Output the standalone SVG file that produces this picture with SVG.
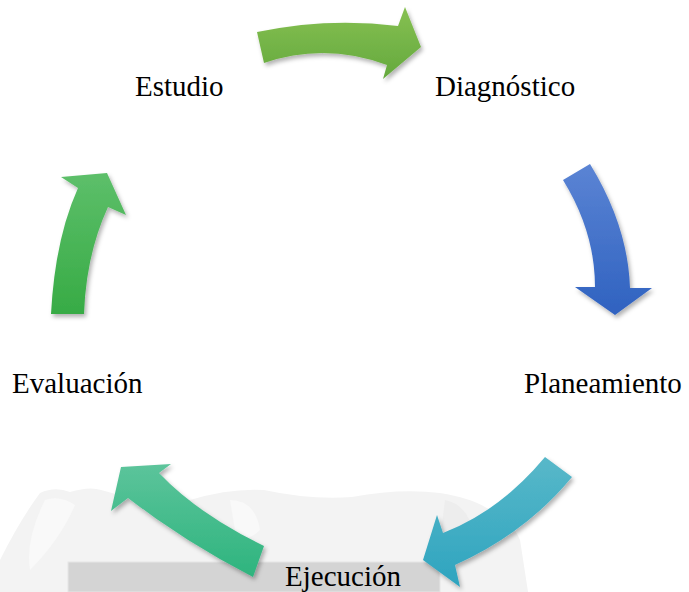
<svg xmlns="http://www.w3.org/2000/svg" width="689" height="592" viewBox="0 0 689 592">
<style>
.arr{filter:url(#sh)}
.lbl{font-family:'Liberation Serif','DejaVu Serif',serif;font-size:29px;fill:#000}
</style>
<defs>
<filter id="sh" x="-20%" y="-20%" width="150%" height="150%">
<feDropShadow dx="2" dy="3" stdDeviation="2" flood-color="#000" flood-opacity="0.3"/>
</filter>
<linearGradient id="gTop" x1="0" y1="0" x2="0" y2="1"><stop offset="0" stop-color="#86c052"/><stop offset="1" stop-color="#64a93d"/></linearGradient>
<linearGradient id="gBlue" x1="0" y1="0" x2="0" y2="1"><stop offset="0" stop-color="#5b84d4"/><stop offset="1" stop-color="#2f62c0"/></linearGradient>
<linearGradient id="gTeal" x1="0" y1="0" x2="0" y2="1"><stop offset="0" stop-color="#58b8c9"/><stop offset="1" stop-color="#2ea4bf"/></linearGradient>
<linearGradient id="gSea" x1="0" y1="0" x2="0" y2="1"><stop offset="0" stop-color="#5cc49b"/><stop offset="1" stop-color="#2eb47e"/></linearGradient>
<linearGradient id="gLeft" x1="0" y1="0" x2="0" y2="1"><stop offset="0" stop-color="#5dbf6a"/><stop offset="1" stop-color="#37ab45"/></linearGradient>
</defs>
<rect width="689" height="592" fill="#fff"/>
<g id="watermark">
<path d="M0,560 Q20,520 40,493 Q55,486 70,492 Q90,486 101,490 Q150,505 190,500 Q230,488 264,490 Q310,500 352,497 Q400,488 440,493 Q470,498 485,507 Q512,520 520,540 L528,592 L0,592 Z" fill="#f3f3f3"/>
<path d="M45,500 Q60,495 75,505 Q60,540 30,570 Q25,540 45,500 Z" fill="#f9f9f9"/>
<path d="M230,500 Q255,500 260,530 Q245,545 235,530 Z" fill="#f9f9f9"/>
<path d="M445,500 Q470,505 475,540 Q455,560 440,540 Z" fill="#ededed"/>
</g>
<rect x="68" y="562" width="372" height="30" fill="#d4d4d4" stroke="#e6e6e6" stroke-width="1"/>
<g id="connectors">
<path class="arr" d="M257,32 Q328,17 398,26 L405,7 L421,47 L383,79 L387,65 Q325,42 264,63 Z" fill="url(#gTop)"/>
<path class="arr" d="M563,180 L590,164 Q628,226 630,288 L652,288 L615,315 L575,287 L595,287 Q595,232 563,180 Z" fill="url(#gBlue)"/>
<path class="arr" d="M545,457 L572,477 Q526,533 455,565 L460,587 L423,560 L437,515 L443,533 Q500,511 545,457 Z" fill="url(#gTeal)"/>
<path class="arr" d="M264,546 Q198,514 159,473 L171,464 L121,467 L111,511 L128,498 Q185,542 253,577 Z" fill="url(#gSea)"/>
<path class="arr" d="M51,314 Q55,239 78,188 L61,177 L107,173 L126,215 L108,207 Q86,255 84,314 Z" fill="url(#gLeft)"/>
</g>
<g id="estudio"><text class="lbl" x="135" y="96">Estudio</text></g>
<g id="diagnostico"><text class="lbl" x="435" y="96">Diagnóstico</text></g>
<g id="planeamiento"><text class="lbl" x="524" y="393">Planeamiento</text></g>
<g id="ejecucion"><text class="lbl" x="285" y="586">Ejecución</text></g>
<g id="evaluacion"><text class="lbl" x="12" y="393">Evaluación</text></g>
</svg>
